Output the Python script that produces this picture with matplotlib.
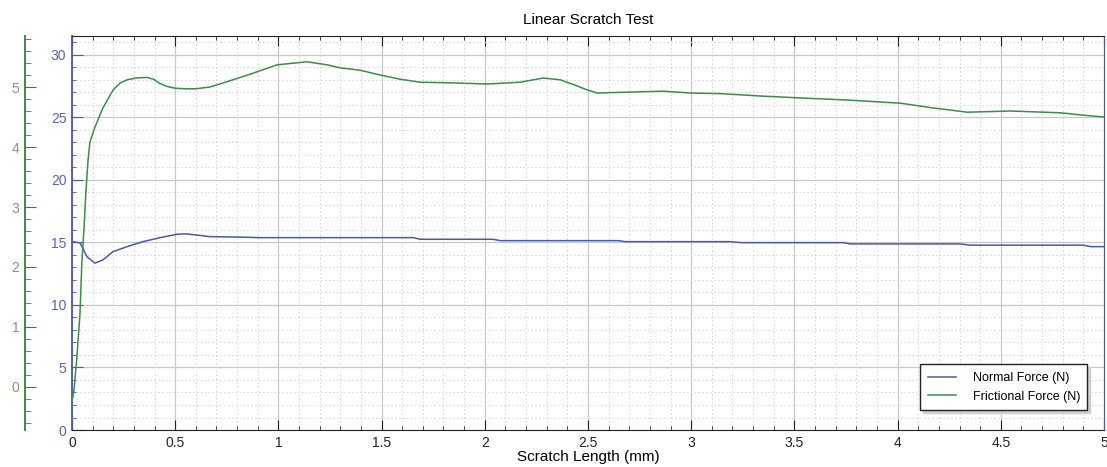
import matplotlib
matplotlib.use("Agg")
import matplotlib.pyplot as plt
from matplotlib.ticker import MultipleLocator

plt.rcParams["font.family"] = ["Liberation Sans", "DejaVu Sans"]

# scratch length (mm) and normal force (N), left inner blue scale
normal_x = [0, 0.039, 0.073, 0.111, 0.150, 0.199, 0.267, 0.344, 0.427, 0.509,
            0.557, 0.669, 0.814, 0.911, 1.653, 1.687, 2.040, 2.075, 2.647, 2.680,
            3.190, 3.240, 3.737, 3.770, 4.304, 4.350, 4.900, 4.935, 5.0]
normal_force = [15.06, 14.96, 13.86, 13.34, 13.60, 14.26, 14.66, 15.06, 15.38, 15.65,
                15.68, 15.46, 15.42, 15.38, 15.38, 15.25, 15.25, 15.14, 15.14, 15.06,
                15.06, 14.98, 14.98, 14.88, 14.88, 14.78, 14.78, 14.66, 14.66]

# frictional force (N), outer green scale
fric_x = [0, 0.010, 0.024, 0.039, 0.048, 0.058, 0.068, 0.078, 0.087, 0.111,
          0.150, 0.199, 0.235, 0.267, 0.310, 0.364, 0.395, 0.425, 0.460, 0.500,
          0.550, 0.600, 0.669, 0.780,
          0.877, 0.994, 1.139, 1.236, 1.299, 1.396, 1.493, 1.590, 1.687, 1.833,
          2.012, 2.172, 2.283, 2.366, 2.438, 2.497, 2.545, 2.753, 2.865, 2.996,
          3.141, 3.335, 3.514, 3.771, 4.014, 4.174, 4.338, 4.547, 4.789, 4.901, 5.0]
fric_force = [-0.25, -0.05, 0.50, 1.23, 2.07, 2.62, 3.28, 3.78, 4.08, 4.33,
              4.65, 4.95, 5.07, 5.12, 5.15, 5.16, 5.13, 5.06, 5.01, 4.98,
              4.97, 4.97, 5.00, 5.12,
              5.23, 5.37, 5.42, 5.37, 5.32, 5.28, 5.20, 5.13, 5.08, 5.07,
              5.05, 5.08, 5.15, 5.12, 5.03, 4.95, 4.90, 4.92, 4.93, 4.90,
              4.89, 4.85, 4.82, 4.78, 4.73, 4.65, 4.58, 4.60, 4.57, 4.53, 4.50]

BLUE = "#4a58a8"
BLUE_TXT = "#5864b0"
GREEN = "#3f8a4c"
GREEN_TXT = "#7aa266"
GREEN_SPINE = "#3d7a48"

fig = plt.figure(figsize=(11.07, 4.67), dpi=100)
ax = fig.add_axes([0.065, 0.0792, 0.9323, 0.8437])

ax.plot(normal_x, normal_force, color=BLUE, lw=1.1, label="Normal Force (N)")
ax.set_xlim(0, 5)
ax.set_ylim(0, 31.5)

ax.xaxis.set_major_locator(MultipleLocator(0.5))
ax.xaxis.set_minor_locator(MultipleLocator(0.1))
ax.yaxis.set_major_locator(MultipleLocator(5))
ax.yaxis.set_minor_locator(MultipleLocator(1))
ax.set_xticks([0, 0.5, 1, 1.5, 2, 2.5, 3, 3.5, 4, 4.5, 5])
ax.set_xticklabels(["0", "0.5", "1", "1.5", "2", "2.5", "3", "3.5", "4", "4.5", "5"])

ax.grid(which="major", color="#c8c8c8", lw=0.9)
ax.grid(which="minor", color="#d4d4d4", lw=0.7, ls=(0, (1.5, 2.5)))
ax.set_axisbelow(True)

ax.tick_params(axis="x", which="both", direction="in", top=True, colors="#222222",
               labelsize=10, pad=4)
ax.tick_params(axis="x", which="major", length=7)
ax.tick_params(axis="x", which="minor", length=3)
ax.tick_params(axis="y", which="both", direction="in", right=True, colors=BLUE,
               labelcolor=BLUE_TXT, labelsize=10, pad=4)
ax.tick_params(axis="y", which="major", length=8)
ax.tick_params(axis="y", which="minor", length=3)
ax.spines["left"].set_color(BLUE)
ax.spines["left"].set_linewidth(1.3)
ax.spines["right"].set_color(BLUE)
ax.spines["top"].set_color("#222222")
ax.spines["bottom"].set_color("#222222")

ax.set_title("Linear Scratch Test", fontsize=11, pad=9)
ax.set_xlabel("Scratch Length (mm)", fontsize=11, labelpad=0)

# outer green axis for frictional force
ax2 = ax.twinx()
ax2.plot(fric_x, fric_force, color=GREEN, lw=1.1, label="Frictional Force (N)")
ax2.set_ylim(-0.717, 5.85)
ax2.yaxis.set_ticks_position("left")
ax2.yaxis.set_label_position("left")
ax2.spines["left"].set_position(("axes", -0.0455))
ax2.spines["left"].set_color(GREEN_SPINE)
ax2.spines["left"].set_linewidth(1.3)
for side in ["right", "top", "bottom"]:
    ax2.spines[side].set_visible(False)
ax2.yaxis.set_major_locator(MultipleLocator(1))
ax2.yaxis.set_minor_locator(MultipleLocator(0.2))
ax2.tick_params(axis="y", which="both", direction="in", colors=GREEN_SPINE,
                labelcolor=GREEN_TXT, labelsize=10, pad=4)
ax2.tick_params(axis="y", which="major", length=8)
ax2.tick_params(axis="y", which="minor", length=4)

handles = ax.get_lines() + ax2.get_lines()
leg = ax2.legend(handles, [h.get_label() for h in handles], loc="lower right",
                 bbox_to_anchor=(0.984, 0.05), borderaxespad=0, fontsize=9,
                 frameon=True, fancybox=False,
                 shadow={"color": "#cfcfcf", "alpha": 1},
                 edgecolor="#222222", handlelength=2.3, borderpad=0.6,
                 labelspacing=0.55, handletextpad=1.3)
leg.get_frame().set_linewidth(1.0)

fig.savefig("out.png", dpi=100)
